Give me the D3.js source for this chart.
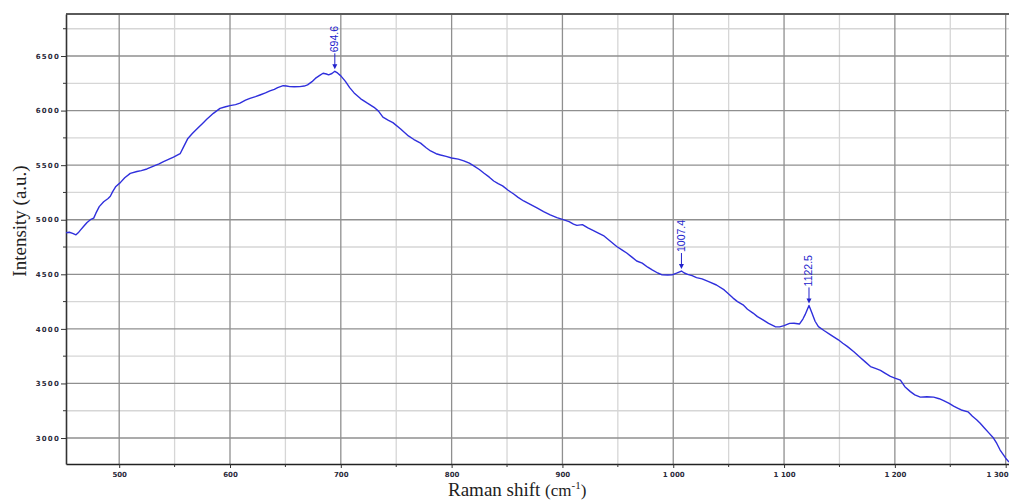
<!DOCTYPE html>
<html>
<head>
<meta charset="utf-8">
<script src="https://cdn.jsdelivr.net/npm/d3@7"></script>
<style>
  html, body { margin: 0; padding: 0; background: #fff; }
  svg { display: block; }
</style>
</head>
<body>
<svg id="chart" width="1009" height="501"></svg>
<script>
// Raman spectrum: shift (cm-1) and measured intensity (a.u.)
const ramanShift = [
  452, 455, 458, 461, 463, 465, 468, 471, 474, 477, 479, 482, 486, 490, 492, 494, 497, 501, 505, 510,
  516, 520, 525, 531, 536, 540, 545, 549, 555, 558, 562, 566, 571, 575, 579, 585, 591, 596, 600, 605,
  609, 614, 618, 623, 627, 632, 636, 640, 643, 648, 651, 654, 658, 663, 667, 670, 674, 677, 681, 684,
  687, 689, 692, 694.6, 697, 700, 704, 708, 712, 718, 724, 730, 734, 738, 743, 747, 754, 761, 766, 772,
  777, 781, 786, 790, 795, 800, 806, 811, 816, 820, 825, 829, 834, 838, 842, 846, 851, 856, 860, 865,
  871, 877, 883, 889, 895, 900, 906, 910, 913, 918, 923, 928, 932, 937, 943, 949, 954, 958, 963, 967,
  972, 977, 981, 986, 990, 995, 999, 1003, 1007.4, 1010, 1013, 1017, 1021, 1026, 1032, 1039, 1046, 1050, 1054, 1058,
  1063, 1067, 1072, 1076, 1081, 1086, 1092, 1096, 1100, 1105, 1109, 1114, 1117, 1119, 1122.5, 1125, 1128, 1131, 1136, 1142,
  1149, 1153, 1157, 1163, 1169, 1173, 1178, 1183, 1187, 1191, 1196, 1200, 1205, 1209, 1214, 1218, 1223, 1229, 1235, 1240,
  1244, 1249, 1253, 1257, 1260, 1266, 1270, 1274, 1277, 1281, 1285, 1289, 1292, 1295, 1298, 1300, 1303
];
const intensity = [
  4880, 4885, 4875, 4862, 4880, 4905, 4940, 4975, 5000, 5015, 5060, 5120, 5165, 5195, 5215, 5255, 5305, 5340, 5385, 5425,
  5442, 5450, 5465, 5492, 5512, 5533, 5555, 5573, 5605, 5665, 5745, 5790, 5840, 5880, 5920, 5975, 6020, 6035, 6045, 6055,
  6068, 6095, 6112, 6128, 6143, 6162, 6180, 6195, 6210, 6228, 6225, 6220, 6218, 6220, 6225, 6236, 6265, 6295, 6322, 6342,
  6335, 6328, 6340, 6360, 6345, 6318, 6270, 6210, 6162, 6108, 6068, 6030, 5995, 5940, 5910, 5890, 5832, 5768, 5735, 5702,
  5660, 5630, 5605, 5593, 5580, 5566, 5555, 5540, 5518, 5494, 5460, 5428, 5390, 5355, 5330, 5310, 5270, 5236, 5205, 5172,
  5140, 5108, 5075, 5045, 5020, 5003, 4982, 4960, 4948, 4955, 4925, 4900, 4880, 4855, 4805, 4755, 4722, 4695, 4655, 4622,
  4602, 4565, 4540, 4512, 4495, 4493, 4495, 4510, 4530, 4512, 4500, 4488, 4470, 4458, 4432, 4402, 4357, 4320, 4282, 4250,
  4220, 4180, 4145, 4112, 4082, 4050, 4020, 4018, 4030, 4050, 4052, 4045, 4090, 4130, 4215, 4150, 4070, 4020, 3985, 3945,
  3900, 3868, 3840, 3790, 3735, 3700, 3655, 3635, 3620, 3595, 3565, 3548, 3530, 3470, 3425, 3395, 3375, 3378, 3375, 3360,
  3342, 3318, 3293, 3272, 3257, 3240, 3200, 3165, 3135, 3090, 3045, 3000, 2950, 2890, 2845, 2815, 2780
];

// Annotated peaks
const peakShift = [694.6, 1007.4, 1122.5];
const peakIntensity = [6360, 4530, 4215];
const peakText = ["694.6", "1007.4", "1122.5"];

// Axis ticks
const xMajorTicks = [500, 600, 700, 800, 900, 1000, 1100, 1200, 1300];
const xTickLabels = ["500", "600", "700", "800", "900", "1 000", "1 100", "1 200", "1 300"];
const xMinorTicks = [550, 650, 750, 850, 950, 1050, 1150, 1250];
const yMajorTicks = [3000, 3500, 4000, 4500, 5000, 5500, 6000, 6500];
const yTickLabels = ["3000", "3500", "4000", "4500", "5000", "5500", "6000", "6500"];
const yMinorTicks = [3250, 3750, 4250, 4750, 5250, 5750, 6250, 6750];

const svg = d3.select("#chart");
const W = 1009;
const plot = { left: 66, top: 14, right: W, bottom: 464 };

const x = d3.scaleLinear().domain([452, 1303]).range([plot.left, plot.right]);
const y = d3.scaleLinear().domain([2762, 6885]).range([plot.bottom, plot.top]);

svg.append("rect").attr("width", W).attr("height", 501).attr("fill", "#fff");

svg.append("defs").append("clipPath").attr("id", "plotClip")
  .append("rect")
  .attr("x", plot.left).attr("y", plot.top)
  .attr("width", plot.right - plot.left).attr("height", plot.bottom - plot.top);

const grid = svg.append("g");
// minor grid
grid.selectAll("line.vmin").data(xMinorTicks).join("line")
  .attr("x1", d => x(d)).attr("x2", d => x(d))
  .attr("y1", plot.top).attr("y2", plot.bottom)
  .attr("stroke", "#d6d6d6").attr("stroke-width", 1.3);
grid.selectAll("line.hmin").data(yMinorTicks).join("line")
  .attr("y1", d => y(d)).attr("y2", d => y(d))
  .attr("x1", plot.left).attr("x2", plot.right)
  .attr("stroke", "#d6d6d6").attr("stroke-width", 1.3);
// major grid
grid.selectAll("line.vmaj").data(xMajorTicks).join("line")
  .attr("x1", d => x(d)).attr("x2", d => x(d))
  .attr("y1", plot.top).attr("y2", plot.bottom)
  .attr("stroke", "#8f8f8f").attr("stroke-width", 1.3);
grid.selectAll("line.hmaj").data(yMajorTicks).join("line")
  .attr("y1", d => y(d)).attr("y2", d => y(d))
  .attr("x1", plot.left).attr("x2", plot.right)
  .attr("stroke", "#8f8f8f").attr("stroke-width", 1.3);

// top frame
svg.append("line").attr("x1", plot.left).attr("x2", plot.right)
  .attr("y1", plot.top).attr("y2", plot.top)
  .attr("stroke", "#5a5a5a").attr("stroke-width", 2);

// axes
const xAxis = d3.axisBottom(x).tickValues(xMajorTicks)
  .tickFormat((d, i) => xTickLabels[i]).tickSize(4).tickSizeOuter(0);
const gx = svg.append("g").attr("transform", `translate(0,${plot.bottom})`).call(xAxis);
gx.select(".domain").attr("stroke", "#222").attr("stroke-width", 1.6);
gx.selectAll(".tick line").attr("stroke", "#333");
gx.selectAll(".tick text")
  .attr("font-family", "'DejaVu Sans', sans-serif").attr("font-size", 7)
  .attr("font-weight", "bold").attr("fill", "#2a2a3a").attr("dy", "0.85em");
// keep the last label inside the page edge
gx.selectAll(".tick text").filter(d => x(d) > W - 12)
  .attr("text-anchor", "end").attr("x", d => (W - 1) - x(d));
gx.selectAll("line.xminor").data(xMinorTicks).join("line")
  .attr("x1", d => x(d)).attr("x2", d => x(d)).attr("y1", 0).attr("y2", 3)
  .attr("stroke", "#333");

const yAxis = d3.axisLeft(y).tickValues(yMajorTicks)
  .tickFormat((d, i) => yTickLabels[i]).tickSize(5).tickSizeOuter(0);
const gy = svg.append("g").attr("transform", `translate(${plot.left},0)`).call(yAxis);
gy.select(".domain").attr("stroke", "#333").attr("stroke-width", 1.6);
gy.selectAll(".tick line").attr("stroke", "#333");
gy.selectAll(".tick text")
  .attr("font-family", "'DejaVu Sans', sans-serif").attr("font-size", 7)
  .attr("font-weight", "bold").attr("letter-spacing", "1.2px")
  .attr("fill", "#2a2a3a").attr("x", -6);
gy.selectAll("line.yminor").data(yMinorTicks).join("line")
  .attr("x1", -3).attr("x2", 0).attr("y1", d => y(d)).attr("y2", d => y(d))
  .attr("stroke", "#333");

// spectrum
const line = d3.line().x(d => x(d[0])).y(d => y(d[1]));
svg.append("path")
  .datum(ramanShift.map((s, i) => [s, intensity[i]]))
  .attr("clip-path", "url(#plotClip)")
  .attr("d", line)
  .attr("fill", "none").attr("stroke", "#2f2fdc").attr("stroke-width", 1.4)
  .attr("stroke-linejoin", "round");

// peak markers
const peaks = svg.append("g");
peakShift.forEach((p, i) => {
  const px = x(p), py = y(peakIntensity[i]);
  const g = peaks.append("g");
  g.append("line").attr("x1", px).attr("x2", px)
    .attr("y1", py - 18).attr("y2", py - 6)
    .attr("stroke", "#2222cc").attr("stroke-width", 1);
  g.append("path")
    .attr("d", `M${px - 2.5},${py - 7} L${px + 2.5},${py - 7} L${px},${py - 2} Z`)
    .attr("fill", "#2222cc");
  g.append("text")
    .attr("transform", `translate(${px + 3.5},${py - 19}) rotate(-90)`)
    .attr("font-family", "'Liberation Sans', Arial, sans-serif")
    .attr("font-size", 10.5).attr("fill", "#2222cc")
    .text(peakText[i]);
});

// axis titles
svg.append("text")
  .attr("transform", "translate(26,221) rotate(-90)")
  .attr("text-anchor", "middle")
  .attr("font-family", "'Liberation Serif', 'Times New Roman', serif")
  .attr("font-size", 19).attr("fill", "#222")
  .text("Intensity (a.u.)");

const xt = svg.append("text")
  .attr("x", 448).attr("y", 496)
  .attr("font-family", "'Liberation Serif', 'Times New Roman', serif")
  .attr("font-size", 19).attr("fill", "#222");
xt.append("tspan").text("Raman shift ");
xt.append("tspan").attr("font-size", 17).text("(cm");
xt.append("tspan").attr("font-size", 11).attr("dy", -7).text("-1");
xt.append("tspan").attr("font-size", 17).attr("dy", 7).text(")");
</script>
</body>
</html>
